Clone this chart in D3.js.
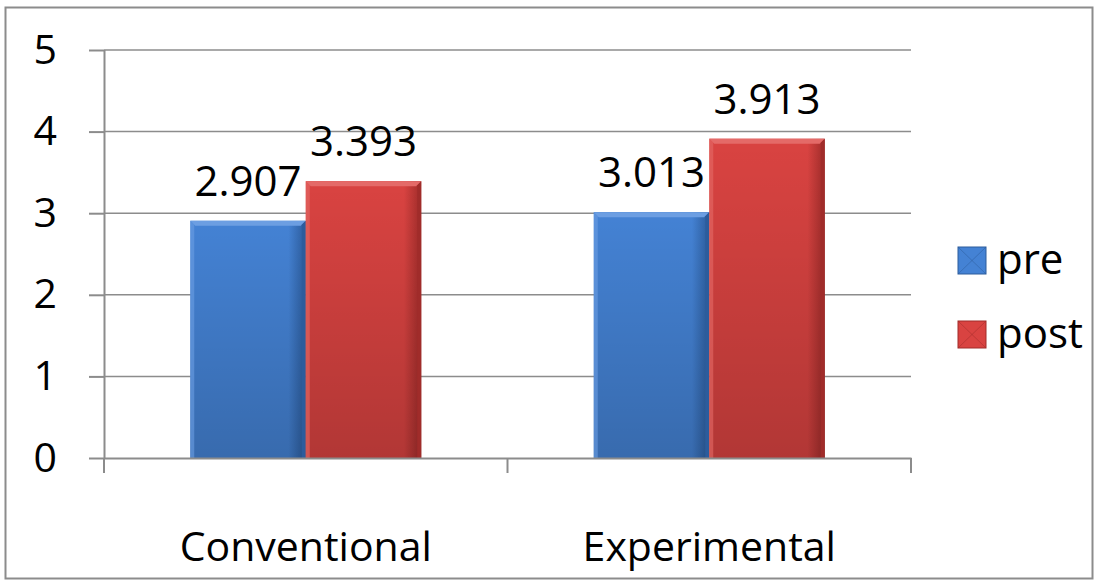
<!DOCTYPE html>
<html>
<head>
<meta charset="utf-8">
<script src="https://cdn.jsdelivr.net/npm/d3@7"></script>
<style>
	body { margin: 0; background: #fff; }
	text { font-family: "Open Sans", "Noto Sans", sans-serif; fill: #000; }
</style>
</head>
<body>
<div id="chart"></div>
<script>
// data
const categories = ["Conventional", "Experimental"]
const seriesNames = ["pre", "post"]
const preValues = [2.907, 3.013]
const postValues = [3.393, 3.913]
const yTicks = [0, 1, 2, 3, 4, 5]

const colors = {
	pre: { mid: "#4482d4", edge: "#2c5c9c", light: "#6c9ee2" },
	post: { mid: "#d94341", edge: "#a02c2a", light: "#e46a68" }
}

const W = 1098, H = 585
const margin = { top: 50, left: 104, right: 187, bottom: 127 }
const width = W - margin.left - margin.right
const height = H - margin.top - margin.bottom

const svg = d3.select("#chart").append("svg")
	.attr("width", W)
	.attr("height", H)

// outer frame
svg.append("rect")
	.attr("x", 5.5).attr("y", 7.5)
	.attr("width", 1087).attr("height", 571)
	.attr("fill", "none")
	.attr("stroke", "#8c8c8c")
	.attr("stroke-width", 2)

const defs = svg.append("defs")
seriesNames.forEach(s => {
	const grad = defs.append("linearGradient")
		.attr("id", "grad-" + s)
		.attr("x1", 0).attr("x2", 1).attr("y1", 0).attr("y2", 0)
	grad.append("stop").attr("offset", "0%").attr("stop-color", colors[s].mid)
	grad.append("stop").attr("offset", "85%").attr("stop-color", colors[s].mid)
	grad.append("stop").attr("offset", "100%").attr("stop-color", colors[s].edge)
	const gv = defs.append("linearGradient")
		.attr("id", "gradv-" + s)
		.attr("x1", 0).attr("x2", 0).attr("y1", 0).attr("y2", 1)
	gv.append("stop").attr("offset", "0%").attr("stop-color", "#000").attr("stop-opacity", 0)
	gv.append("stop").attr("offset", "100%").attr("stop-color", "#000").attr("stop-opacity", 0.18)
})

const g = svg.append("g")
	.attr("transform", "translate(" + margin.left + "," + margin.top + ")")

const xScale = d3.scaleBand()
	.domain(categories)
	.range([0, width])
	.paddingInner(0)
	.paddingOuter(0)

const xInner = d3.scaleBand()
	.domain(seriesNames)
	.range([0, xScale.bandwidth()])
	.paddingOuter(0.747)
	.paddingInner(0)

const yScale = d3.scaleLinear()
	.domain([0, 5])
	.range([height, 0])

// gridlines
g.append("g")
	.selectAll("line")
	.data(yTicks.filter(d => d > 0))
	.join("line")
	.attr("x1", 0).attr("x2", width)
	.attr("y1", d => yScale(d)).attr("y2", d => yScale(d))
	.attr("stroke", "#8c8c8c")
	.attr("stroke-width", 1.5)

// y axis
const yAxis = d3.axisLeft(yScale)
	.tickValues(yTicks)
	.tickSize(15)
	.tickPadding(32)
	.tickFormat(d3.format("d"))

g.append("g")
	.attr("class", "y-axis")
	.call(yAxis)
	.call(a => a.select(".domain").attr("stroke", "#8c8c8c").attr("stroke-width", 2).attr("d", "M0.5," + height + "V0"))
	.call(a => a.selectAll(".tick line").attr("stroke", "#8c8c8c").attr("stroke-width", 2))
	.call(a => a.selectAll(".tick text").attr("font-size", 41).attr("font-family", "Open Sans").attr("fill", "#000"))

// bars
const groups = g.append("g")
	.selectAll("g")
	.data(categories.map((c, i) => ({ cat: c, vals: [preValues[i], postValues[i]] })))
	.join("g")
	.attr("transform", d => "translate(" + xScale(d.cat) + ",0)")

const bars = groups.selectAll("g.bar")
	.data(d => d.vals.map((v, j) => ({ s: seriesNames[j], v: v })))
	.join("g")
	.attr("class", "bar")

bars.append("rect")
	.attr("x", d => xInner(d.s))
	.attr("y", d => yScale(d.v))
	.attr("width", xInner.bandwidth())
	.attr("height", d => height - yScale(d.v))
	.attr("fill", d => "url(#grad-" + d.s + ")")

bars.append("rect")
	.attr("x", d => xInner(d.s))
	.attr("y", d => yScale(d.v))
	.attr("width", xInner.bandwidth())
	.attr("height", d => height - yScale(d.v))
	.attr("fill", d => "url(#gradv-" + d.s + ")")

// bevel top edge
bars.append("polygon")
	.attr("points", d => {
		const x0 = xInner(d.s), x1 = x0 + xInner.bandwidth(), y0 = yScale(d.v), b = 5
		return [[x0, y0], [x1, y0], [x1 - b, y0 + b], [x0 + b, y0 + b]].join(" ")
	})
	.attr("fill", d => colors[d.s].light)

// bevel left edge
bars.append("polygon")
	.attr("points", d => {
		const x0 = xInner(d.s), y0 = yScale(d.v), b = 4
		return [[x0, y0], [x0 + b, y0 + b], [x0 + b, height], [x0, height]].join(" ")
	})
	.attr("fill", d => colors[d.s].light)
	.attr("opacity", 0.6)

// bevel right edge
bars.append("polygon")
	.attr("points", d => {
		const x1 = xInner(d.s) + xInner.bandwidth(), y0 = yScale(d.v), b = 4
		return [[x1, y0], [x1 - b, y0 + b], [x1 - b, height], [x1, height]].join(" ")
	})
	.attr("fill", d => colors[d.s].edge)

// value labels
bars.append("text")
	.attr("x", d => xInner(d.s) + xInner.bandwidth() / 2)
	.attr("y", d => yScale(d.v) - 25)
	.attr("text-anchor", "middle")
	.attr("font-size", 42)
	.text(d => d3.format(".3f")(d.v))

// x axis
const xAxis = d3.axisBottom(xScale)
	.tickSize(0)
	.tickPadding(74)

g.append("g")
	.attr("class", "x-axis")
	.attr("transform", "translate(0," + height + ")")
	.call(xAxis)
	.call(a => a.select(".domain").attr("stroke", "#8c8c8c").attr("stroke-width", 2))
	.call(a => a.selectAll(".tick text").attr("font-size", 41).attr("font-family", "Open Sans").attr("fill", "#000"))

// x axis category boundary ticks
g.append("g")
	.selectAll("line")
	.data([0, 1, 2])
	.join("line")
	.attr("x1", d => d * xScale.step()).attr("x2", d => d * xScale.step())
	.attr("y1", height).attr("y2", height + 15)
	.attr("stroke", "#8c8c8c")
	.attr("stroke-width", 2)

// legend
const legend = svg.append("g")
	.attr("transform", "translate(958,247)")

const items = legend.selectAll("g")
	.data(seriesNames)
	.join("g")
	.attr("transform", (d, i) => "translate(0," + i * 74 + ")")

items.append("rect")
	.attr("width", 28).attr("height", 27)
	.attr("fill", d => colors[d].mid)
	.attr("stroke", d => colors[d].edge)
	.attr("stroke-width", 1)

items.append("path")
	.attr("d", "M0,0L14,13.5L28,0M0,27L14,13.5L28,27")
	.attr("fill", "none")
	.attr("stroke", d => colors[d].edge)
	.attr("stroke-opacity", 0.5)
	.attr("stroke-width", 1)

items.append("text")
	.attr("x", 39)
	.attr("y", 12)
	.attr("dy", "0.36em")
	.attr("font-size", 42)
	.text(d => d)
</script>
</body>
</html>
